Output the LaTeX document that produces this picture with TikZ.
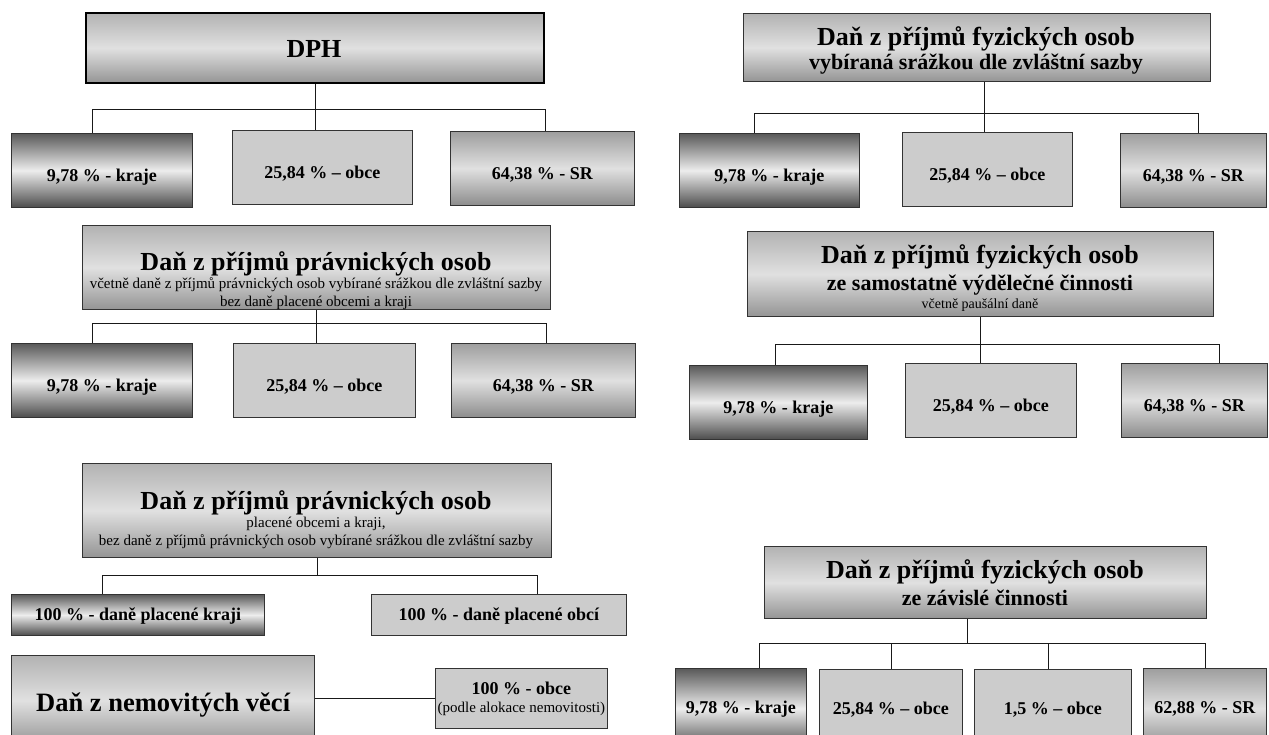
\documentclass[tikz,border=0pt]{standalone}
\usepackage{fontspec}
\setmainfont{Liberation Serif}
\newcommand{\nadpis}{\fontsize{26}{28}\selectfont\bfseries}
\newcommand{\podnadpis}{\fontsize{22}{24}\selectfont\bfseries}
\newcommand{\podil}{\fontsize{18}{20}\selectfont\bfseries}
\newcommand{\tesne}{\lineskiplimit=-20pt\relax}

\begin{document}
\begin{tikzpicture}[x=1pt,y=-1pt,
	hlava/.style={draw=black!80,line width=1.3pt,top color=black!30,bottom color=black!42,middle color=black!12,inner sep=0pt,anchor=north west},
	popis/.style={align=center,inner sep=0pt,font=\fontsize{15}{18}\selectfont\tesne},
	kraj/.style={draw=black!80,line width=0.9pt,top color=black!65,bottom color=black!70,middle color=black!7,font=\podil,inner sep=0pt,anchor=north west},
	obec/.style={draw=black!80,line width=0.9pt,fill=black!20,font=\podil,inner sep=0pt,anchor=north west},
	sr/.style={draw=black!80,line width=0.9pt,top color=black!38,bottom color=black!45,middle color=black!12,font=\podil,inner sep=0pt,anchor=north west},
	dite/.style={text height=48pt,text depth=26pt},
	spoj/.style={draw=black!90,line width=1pt}]
	\useasboundingbox (0,0) rectangle (1269,735);
	
	% DPH
	\node[hlava,draw=black,line width=2.2pt,minimum width=458,minimum height=70] (dph) at (85,12) {};
	\node[popis,anchor=base] (dpht) at (314,58) {\nadpis DPH};
	\node[kraj,dite,minimum width=181] (dphk) at (11,133) {9,78 \% - kraje};
	\node[obec,dite,minimum width=180] (dpho) at (232,130) {25,84 \% – obce};
	\node[sr,dite,minimum width=184] (dphs) at (450,131) {64,38 \% - SR};
	\coordinate (dphl) at (92,110);
	\coordinate (dphr) at (545,110);
	\draw[spoj] (dph.south) -- (dph.south |- dpho.north);
	\draw[spoj] (dphl |- dphk.north) -- (dphl) -- (dphr) -- (dphr |- dphs.north);
	
	% DPPO
	\node[hlava,minimum width=468,minimum height=84] (dpp) at (82,225) {};
	\node[popis] (dppt) at (316,281) {{\nadpis Daň z příjmů právnických osob}\\ včetně daně z příjmů právnických osob vybírané srážkou dle zvláštní sazby\\ bez daně placené obcemi a kraji};
	\node[kraj,dite,minimum width=181] (dppk) at (11,343) {9,78 \% - kraje};
	\node[obec,dite,minimum width=182] (dppo) at (233,343) {25,84 \% – obce};
	\node[sr,dite,minimum width=184] (dpps) at (451,343) {64,38 \% - SR};
	\coordinate (dppl) at (92,324);
	\coordinate (dppr) at (546,324);
	\draw[spoj] (dpp.south) -- (dpp.south |- dppo.north);
	\draw[spoj] (dppl |- dppk.north) -- (dppl) -- (dppr) -- (dppr |- dpps.north);
	
	% DPFO srazkou
	\node[hlava,minimum width=467,minimum height=68] (fos) at (743,13) {};
	\node[popis] (fost) at (976,50) {{\nadpis Daň z příjmů fyzických osob}\\[6pt]{\podnadpis vybíraná srážkou dle zvláštní sazby}};
	\node[kraj,dite,minimum width=180] (fosk) at (679,133) {9,78 \% - kraje};
	\node[obec,dite,minimum width=170] (foso) at (902,132) {25,84 \% – obce};
	\node[sr,dite,minimum width=146] (foss) at (1120,133) {64,38 \% - SR};
	\coordinate (fosj) at (984,114);
	\coordinate (fosl) at (754,114);
	\coordinate (fosr) at (1198,114);
	\draw[spoj] (fosj |- fos.south) -- (fosj |- foso.north);
	\draw[spoj] (fosl |- fosk.north) -- (fosl) -- (fosr) -- (fosr |- foss.north);
	
	% DPFO samostatna cinnost
	\node[hlava,minimum width=466,minimum height=85] (fsc) at (747,231) {};
	\node[popis] (fsct) at (980,278) {{\nadpis Daň z příjmů fyzických osob}\\[9pt]{\podnadpis ze samostatně výdělečné činnosti}\\{\fontsize{14}{16}\selectfont včetně paušální daně}};
	\node[kraj,dite,minimum width=178] (fsck) at (689,365) {9,78 \% - kraje};
	\node[obec,dite,minimum width=171] (fsco) at (905,363) {25,84 \% – obce};
	\node[sr,dite,minimum width=146] (fscs) at (1121,363) {64,38 \% - SR};
	\coordinate (fscl) at (775,344);
	\coordinate (fscr) at (1219,344);
	\draw[spoj] (fsc.south) -- (fsc.south |- fsco.north);
	\draw[spoj] (fscl |- fsck.north) -- (fscl) -- (fscr) -- (fscr |- fscs.north);
	
	% DPPO obce a kraje
	\node[hlava,minimum width=469,minimum height=94] (ppo) at (82,463) {};
	\node[popis] (ppot) at (316,520) {{\nadpis Daň z příjmů právnických osob}\\ placené obcemi a kraji,\\ bez daně z příjmů právnických osob vybírané srážkou dle zvláštní sazby};
	\node[kraj,text height=26pt,text depth=15pt,minimum width=253] (ppok) at (11,594) {100 \% - daně placené kraji};
	\node[obec,text height=26pt,text depth=15pt,minimum width=255] (ppoo) at (371,594) {100 \% - daně placené obcí};
	\coordinate (ppol) at (102,575);
	\coordinate (ppor) at (537,575);
	\draw[spoj] (ppo.south) -- (ppo.south |- ppol);
	\draw[spoj] (ppol |- ppok.north) -- (ppol) -- (ppor) -- (ppor |- ppoo.north);
	
	% nemovitosti
	\node[hlava,font=\fontsize{26.5}{28}\selectfont\bfseries,text height=56pt,text depth=34pt,minimum width=303] (nem) at (11,655) {Daň z nemovitých věcí};
	\node[obec,align=center,minimum width=172,minimum height=60,font=\fontsize{15}{18}\selectfont\tesne] (nemo) at (435,668) {{\podil 100 \% - obce}\\(podle alokace nemovitosti)};
	\draw[spoj] (nem.east |- nemo.west) -- (nemo.west);
	
	% DPFO zavisla cinnost
	\node[hlava,minimum width=442,minimum height=72] (fzc) at (764,546) {};
	\node[popis] (fzct) at (985,583) {{\nadpis Daň z příjmů fyzických osob}\\[9pt]{\podnadpis ze závislé činnosti}};
	\node[kraj,text height=45pt,text depth=35pt,minimum width=131] (fzc1) at (675,668) {9,78 \% - kraje};
	\node[obec,text height=45pt,text depth=35pt,minimum width=143] (fzc2) at (819,669) {25,84 \% – obce};
	\node[obec,text height=45pt,text depth=35pt,minimum width=157] (fzc3) at (974,669) {1,5 \% – obce};
	\node[sr,text height=45pt,text depth=35pt,minimum width=123] (fzc4) at (1143,668) {62,88 \% - SR};
	\coordinate (fzcj) at (967,643);
	\draw[spoj] (fzcj |- fzc.south) -- (fzcj);
	\foreach \i/\x in {1/759,2/891,3/1048,4/1205}
		\coordinate (fzcb\i) at (\x,643);
	\draw[spoj] (fzcb1) -- (fzcb4);
	\foreach \i in {1,...,4}{% spoje
		\draw[spoj] (fzcb\i) -- (fzcb\i |- fzc\i.north);
	}
\end{tikzpicture}
\end{document}
